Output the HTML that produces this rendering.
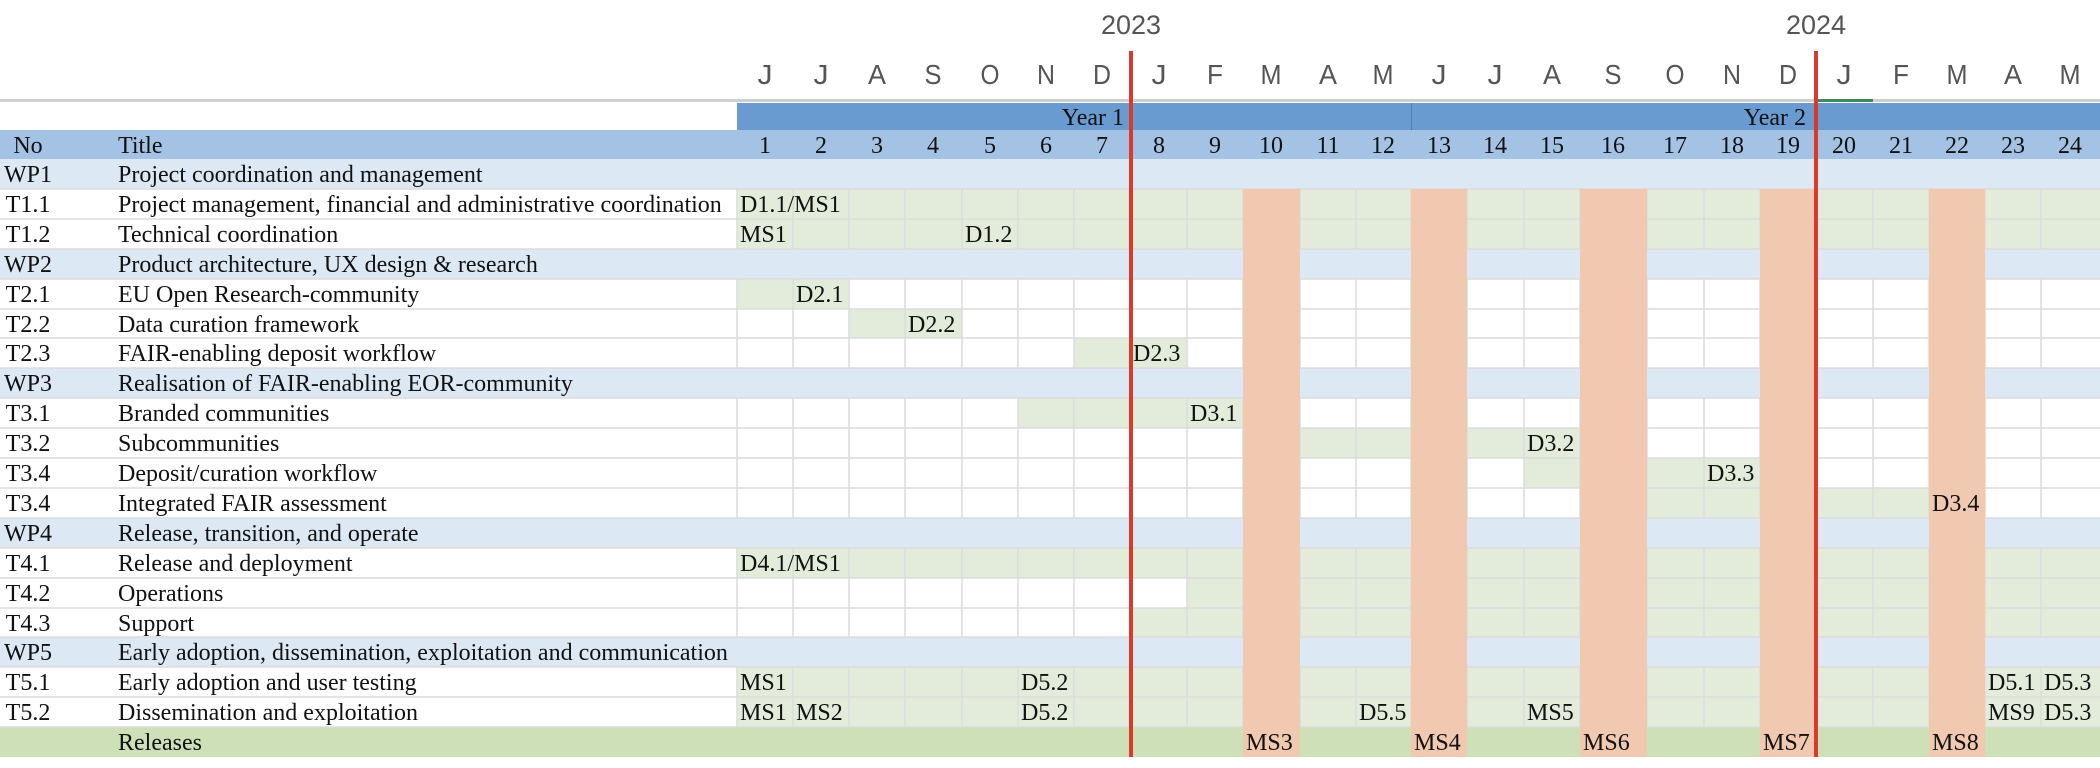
<!DOCTYPE html>
<html><head><meta charset="utf-8"><style>
html,body{margin:0;padding:0;background:#fff;}
svg{display:block}
.s{font-family:"Liberation Serif",serif;font-size:24px;fill:#111}
.m{font-family:"Liberation Sans",sans-serif;font-size:28px;fill:#555}
.y{font-family:"Liberation Sans",sans-serif;font-size:27px;fill:#555}
</style></head><body>
<svg width="2100" height="768" viewBox="0 0 2100 768" xmlns="http://www.w3.org/2000/svg">
<rect width="2100" height="768" fill="#fff"/>
<text class="y" x="1131" y="34" text-anchor="middle">2023</text>
<text class="y" x="1816" y="34" text-anchor="middle">2024</text>
<g class="m" text-anchor="middle">
<text x="765" y="84" textLength="15" lengthAdjust="spacingAndGlyphs">J</text><text x="821" y="84" textLength="15" lengthAdjust="spacingAndGlyphs">J</text><text x="877" y="84" textLength="18" lengthAdjust="spacingAndGlyphs">A</text><text x="933" y="84" textLength="17" lengthAdjust="spacingAndGlyphs">S</text><text x="990" y="84" textLength="19" lengthAdjust="spacingAndGlyphs">O</text><text x="1046" y="84" textLength="18" lengthAdjust="spacingAndGlyphs">N</text><text x="1102" y="84" textLength="18" lengthAdjust="spacingAndGlyphs">D</text><text x="1159" y="84" textLength="15" lengthAdjust="spacingAndGlyphs">J</text><text x="1215" y="84" textLength="16" lengthAdjust="spacingAndGlyphs">F</text><text x="1271" y="84" textLength="21" lengthAdjust="spacingAndGlyphs">M</text><text x="1328" y="84" textLength="18" lengthAdjust="spacingAndGlyphs">A</text><text x="1383" y="84" textLength="21" lengthAdjust="spacingAndGlyphs">M</text><text x="1439" y="84" textLength="15" lengthAdjust="spacingAndGlyphs">J</text><text x="1495" y="84" textLength="15" lengthAdjust="spacingAndGlyphs">J</text><text x="1552" y="84" textLength="18" lengthAdjust="spacingAndGlyphs">A</text><text x="1613" y="84" textLength="17" lengthAdjust="spacingAndGlyphs">S</text><text x="1675" y="84" textLength="19" lengthAdjust="spacingAndGlyphs">O</text><text x="1732" y="84" textLength="18" lengthAdjust="spacingAndGlyphs">N</text><text x="1788" y="84" textLength="18" lengthAdjust="spacingAndGlyphs">D</text><text x="1844" y="84" textLength="15" lengthAdjust="spacingAndGlyphs">J</text><text x="1901" y="84" textLength="16" lengthAdjust="spacingAndGlyphs">F</text><text x="1957" y="84" textLength="21" lengthAdjust="spacingAndGlyphs">M</text><text x="2013" y="84" textLength="18" lengthAdjust="spacingAndGlyphs">A</text><text x="2070" y="84" textLength="21" lengthAdjust="spacingAndGlyphs">M</text>
</g>
<rect x="0" y="99" width="2100" height="3" fill="#cfcfcf"/>
<rect x="1818" y="99" width="55" height="3" fill="#3f8a5c"/>
<rect x="737" y="103" width="1363" height="27" fill="#6a9bd0"/>
<rect x="1411" y="103" width="1" height="27" fill="#4f7fba"/>
<text class="s" x="1124" y="125" text-anchor="end">Year 1</text>
<text class="s" x="1806" y="125" text-anchor="end">Year 2</text>
<rect x="0" y="130" width="2100" height="29" fill="#a4c2e3"/>
<text class="s" x="28" y="153" text-anchor="middle">No</text>
<text class="s" x="118" y="153">Title</text>
<g class="s" text-anchor="middle">
<text x="765" y="153">1</text><text x="821" y="153">2</text><text x="877" y="153">3</text><text x="933" y="153">4</text><text x="990" y="153">5</text><text x="1046" y="153">6</text><text x="1102" y="153">7</text><text x="1159" y="153">8</text><text x="1215" y="153">9</text><text x="1271" y="153">10</text><text x="1328" y="153">11</text><text x="1383" y="153">12</text><text x="1439" y="153">13</text><text x="1495" y="153">14</text><text x="1552" y="153">15</text><text x="1613" y="153">16</text><text x="1675" y="153">17</text><text x="1732" y="153">18</text><text x="1788" y="153">19</text><text x="1844" y="153">20</text><text x="1901" y="153">21</text><text x="1957" y="153">22</text><text x="2013" y="153">23</text><text x="2070" y="153">24</text>
</g>
<g fill="#dde8f5">
<rect x="0" y="159" width="2100" height="30"/>
<rect x="0" y="249" width="2100" height="30"/>
<rect x="0" y="368" width="2100" height="30"/>
<rect x="0" y="518" width="2100" height="30"/>
<rect x="0" y="637" width="2100" height="30"/>
</g>
<g fill="#e3ecdb">
<rect x="737" y="189" width="1363" height="60"/>
<rect x="737" y="279" width="112" height="30"/>
<rect x="849" y="309" width="113" height="29"/>
<rect x="1074" y="338" width="113" height="30"/>
<rect x="1018" y="398" width="225" height="30"/>
<rect x="1300" y="428" width="280" height="30"/>
<rect x="1524" y="458" width="236" height="30"/>
<rect x="1647" y="488" width="338" height="30"/>
<rect x="737" y="548" width="1363" height="30"/>
<rect x="1187" y="578" width="913" height="30"/>
<rect x="1131" y="608" width="969" height="29"/>
<rect x="737" y="667" width="1363" height="60"/>
</g>
<rect x="0" y="727" width="2100" height="30" fill="#cde0b8"/>
<g stroke="#dcdcdc" stroke-width="1.5">
<path d="M737 189V249M793 189V249M849 189V249M905 189V249M962 189V249M1018 189V249M1074 189V249M1187 189V249M1243 189V249M1300 189V249M1356 189V249M1411 189V249M1467 189V249M1524 189V249M1580 189V249M1647 189V249M1704 189V249M1760 189V249M1873 189V249M1929 189V249M1985 189V249M2041 189V249"/>
<path d="M737 279V368M793 279V368M849 279V368M905 279V368M962 279V368M1018 279V368M1074 279V368M1187 279V368M1243 279V368M1300 279V368M1356 279V368M1411 279V368M1467 279V368M1524 279V368M1580 279V368M1647 279V368M1704 279V368M1760 279V368M1873 279V368M1929 279V368M1985 279V368M2041 279V368"/>
<path d="M737 398V518M793 398V518M849 398V518M905 398V518M962 398V518M1018 398V518M1074 398V518M1187 398V518M1243 398V518M1300 398V518M1356 398V518M1411 398V518M1467 398V518M1524 398V518M1580 398V518M1647 398V518M1704 398V518M1760 398V518M1873 398V518M1929 398V518M1985 398V518M2041 398V518"/>
<path d="M737 548V637M793 548V637M849 548V637M905 548V637M962 548V637M1018 548V637M1074 548V637M1187 548V637M1243 548V637M1300 548V637M1356 548V637M1411 548V637M1467 548V637M1524 548V637M1580 548V637M1647 548V637M1704 548V637M1760 548V637M1873 548V637M1929 548V637M1985 548V637M2041 548V637"/>
<path d="M737 667V727M793 667V727M849 667V727M905 667V727M962 667V727M1018 667V727M1074 667V727M1187 667V727M1243 667V727M1300 667V727M1356 667V727M1411 667V727M1467 667V727M1524 667V727M1580 667V727M1647 667V727M1704 667V727M1760 667V727M1873 667V727M1929 667V727M1985 667V727M2041 667V727"/>
<path d="M0 189H2100M0 219H2100M0 249H2100M0 279H2100M0 309H2100M0 338H2100M0 368H2100M0 398H2100M0 428H2100M0 458H2100M0 488H2100M0 518H2100M0 548H2100M0 578H2100M0 608H2100M0 637H2100M0 667H2100M0 697H2100M0 727H2100"/>
</g>
<g fill="#f0c9b0">
<rect x="1243" y="189" width="57" height="568"/>
<rect x="1411" y="189" width="56" height="568"/>
<rect x="1580" y="189" width="67" height="568"/>
<rect x="1760" y="189" width="56" height="568"/>
<rect x="1929" y="189" width="56" height="568"/>
</g>
<rect x="1129" y="51" width="4" height="706" fill="#d93a2a"/>
<rect x="1814" y="51" width="4" height="706" fill="#d93a2a"/>
<g class="s">
<g text-anchor="middle">
<text x="28" y="182">WP1</text><text x="28" y="212">T1.1</text><text x="28" y="242">T1.2</text>
<text x="28" y="272">WP2</text><text x="28" y="302">T2.1</text><text x="28" y="332">T2.2</text><text x="28" y="361">T2.3</text>
<text x="28" y="391">WP3</text><text x="28" y="421">T3.1</text><text x="28" y="451">T3.2</text><text x="28" y="481">T3.4</text><text x="28" y="511">T3.4</text>
<text x="28" y="541">WP4</text><text x="28" y="571">T4.1</text><text x="28" y="601">T4.2</text><text x="28" y="631">T4.3</text>
<text x="28" y="660">WP5</text><text x="28" y="690">T5.1</text><text x="28" y="720">T5.2</text>
</g>
<text x="118" y="182">Project coordination and management</text>
<text x="118" y="212">Project management, financial and administrative coordination</text>
<text x="118" y="242">Technical coordination</text>
<text x="118" y="272">Product architecture, UX design &amp; research</text>
<text x="118" y="302">EU Open Research-community</text>
<text x="118" y="332">Data curation framework</text>
<text x="118" y="361">FAIR-enabling deposit workflow</text>
<text x="118" y="391">Realisation of FAIR-enabling EOR-community</text>
<text x="118" y="421">Branded communities</text>
<text x="118" y="451">Subcommunities</text>
<text x="118" y="481">Deposit/curation workflow</text>
<text x="118" y="511">Integrated FAIR assessment</text>
<text x="118" y="541">Release, transition, and operate</text>
<text x="118" y="571">Release and deployment</text>
<text x="118" y="601">Operations</text>
<text x="118" y="631">Support</text>
<text x="118" y="660">Early adoption, dissemination, exploitation and communication</text>
<text x="118" y="690">Early adoption and user testing</text>
<text x="118" y="720">Dissemination and exploitation</text>
<text x="118" y="750">Releases</text>
<text x="740" y="212">D1.1/MS1</text>
<text x="740" y="242">MS1</text><text x="965" y="242">D1.2</text>
<text x="796" y="302">D2.1</text>
<text x="908" y="332">D2.2</text>
<text x="1133" y="361">D2.3</text>
<text x="1190" y="421">D3.1</text>
<text x="1527" y="451">D3.2</text>
<text x="1707" y="481">D3.3</text>
<text x="1932" y="511">D3.4</text>
<text x="740" y="571">D4.1/MS1</text>
<text x="740" y="690">MS1</text><text x="1021" y="690">D5.2</text><text x="1988" y="690">D5.1</text><text x="2044" y="690">D5.3</text>
<text x="740" y="720">MS1</text><text x="796" y="720">MS2</text><text x="1021" y="720">D5.2</text><text x="1359" y="720">D5.5</text><text x="1527" y="720">MS5</text><text x="1988" y="720">MS9</text><text x="2044" y="720">D5.3</text>
<text x="1246" y="750">MS3</text><text x="1414" y="750">MS4</text><text x="1583" y="750">MS6</text><text x="1763" y="750">MS7</text><text x="1932" y="750">MS8</text>
</g>
</svg>
</body></html>
